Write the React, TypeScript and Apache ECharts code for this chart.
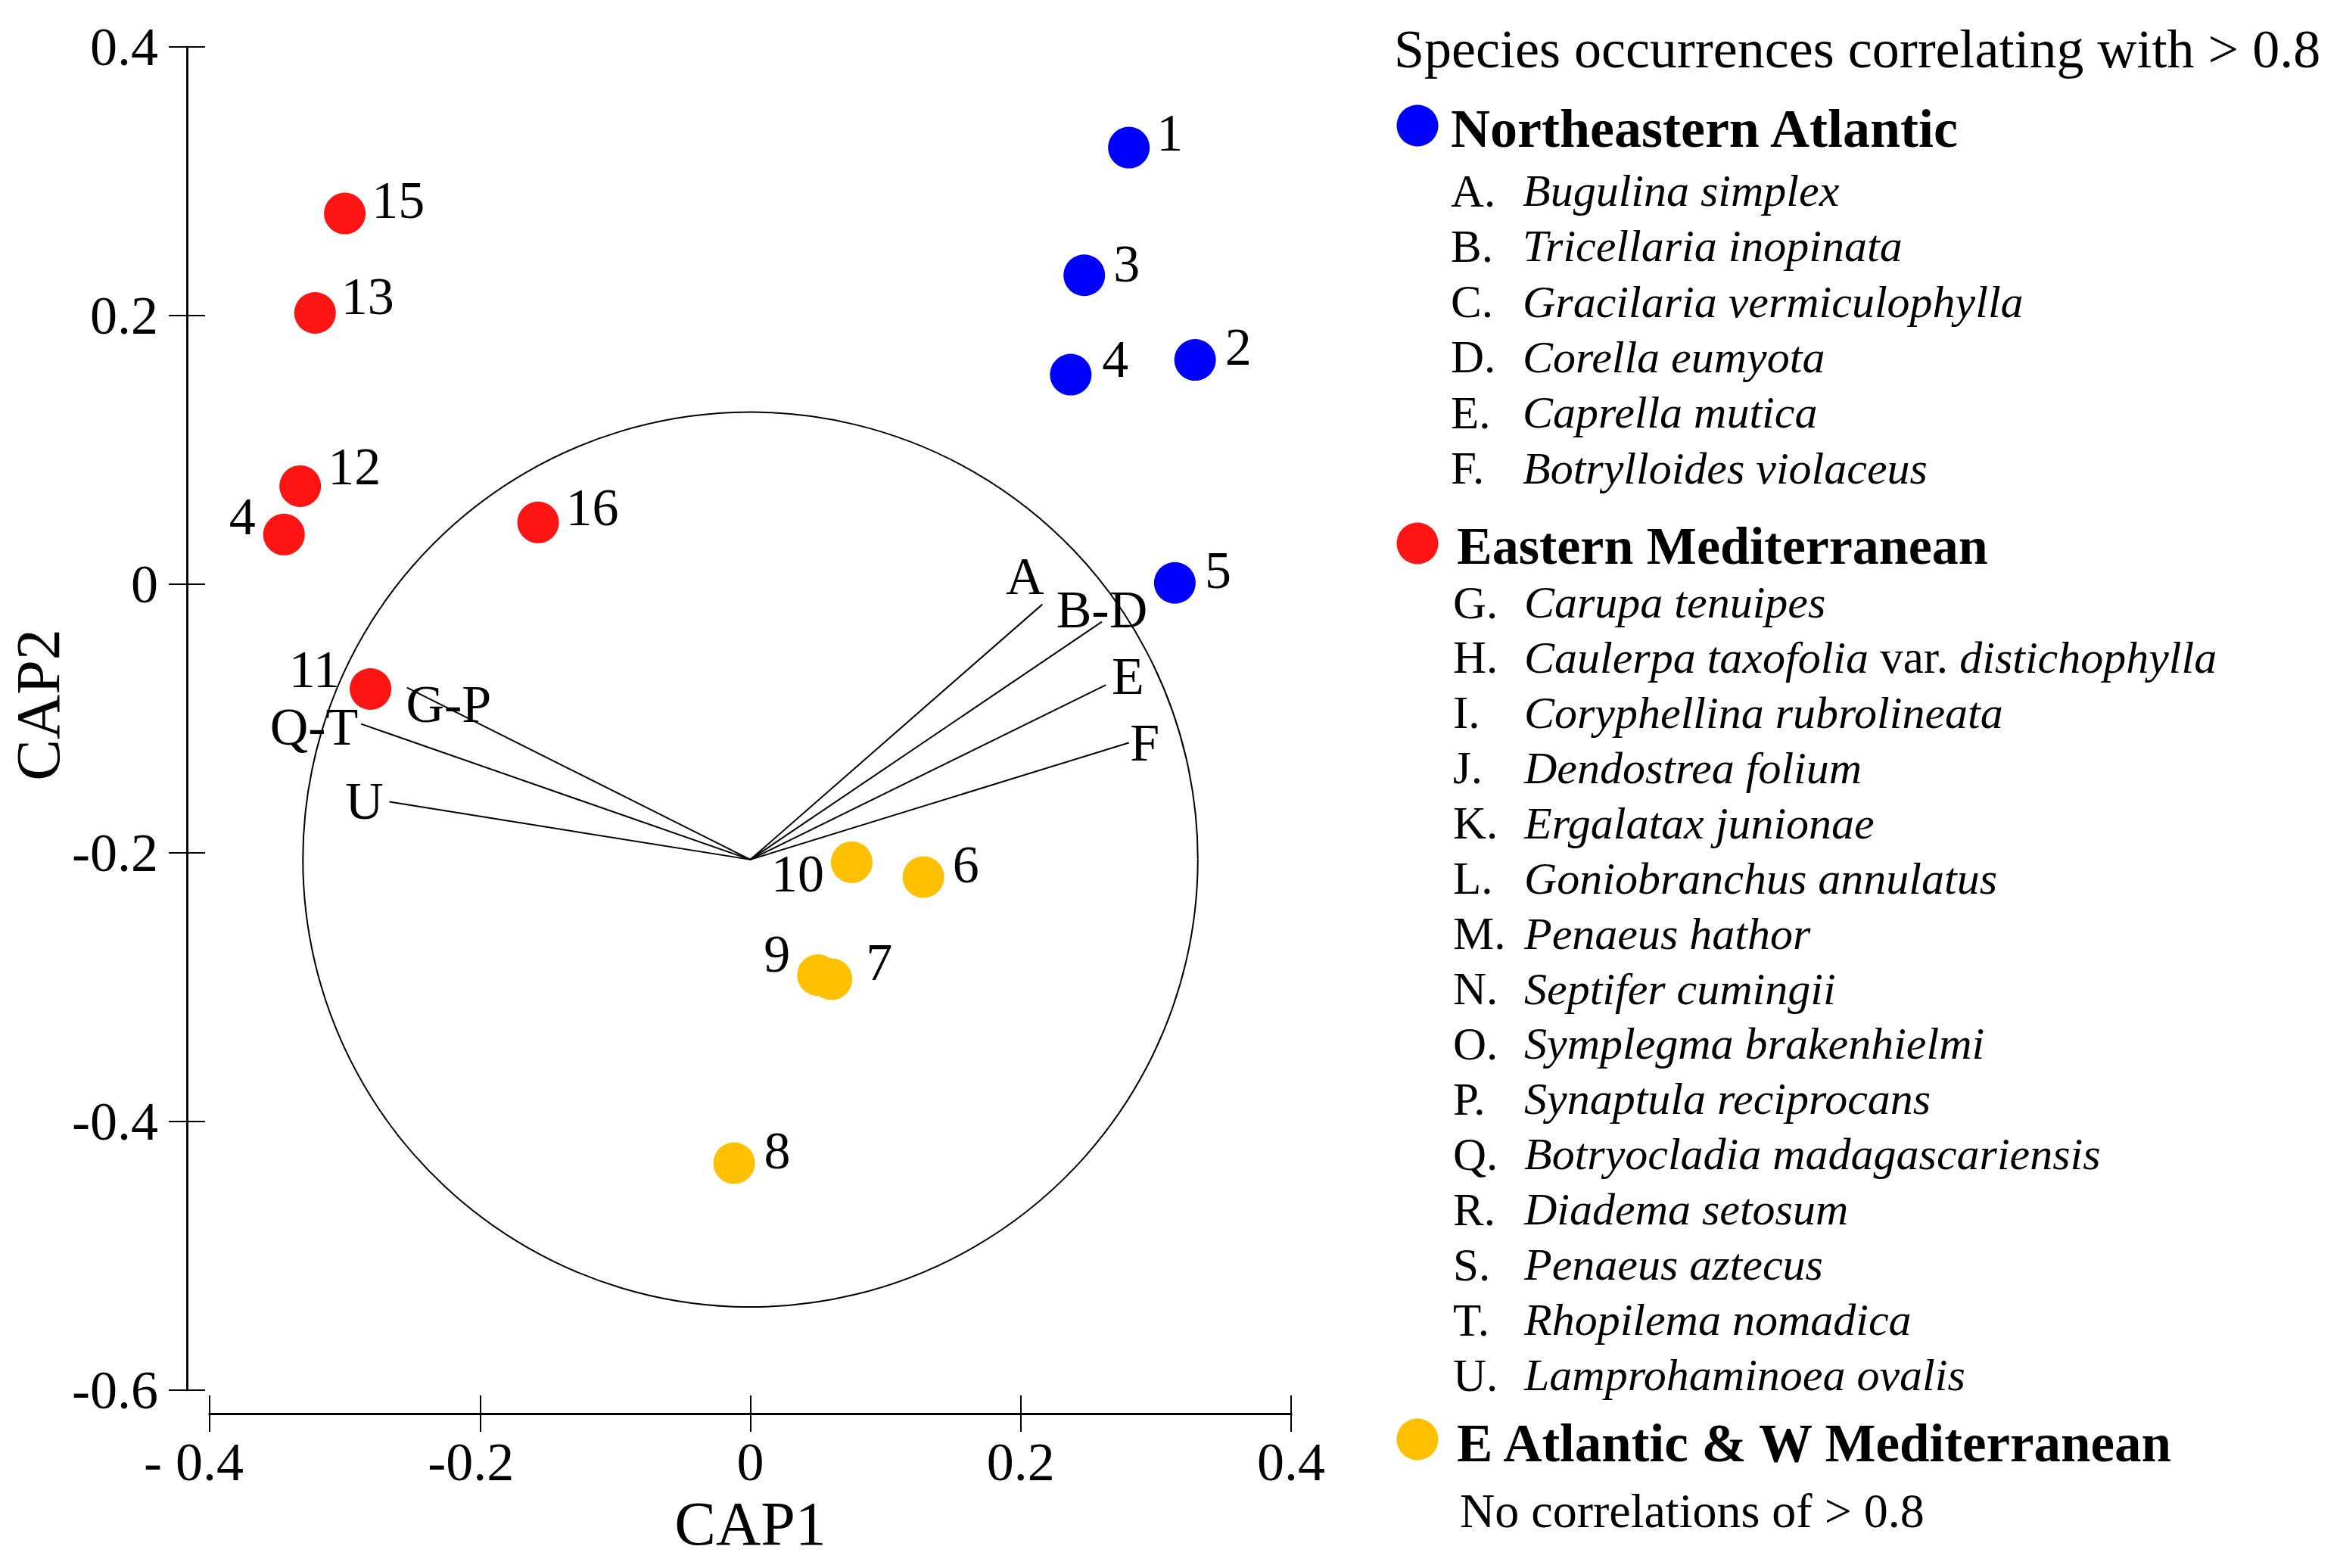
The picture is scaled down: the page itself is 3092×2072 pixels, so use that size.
import React, { useEffect, useRef } from "react";
import * as echarts from "echarts";

// ---------- DATA ----------
const neSites = ["1", "2", "3", "4", "5"];
const neCAP1 = [0.28, 0.329, 0.247, 0.237, 0.314];
const neCAP2 = [0.325, 0.167, 0.23, 0.156, 0.001];

const emSites = ["15", "13", "12", "4", "16", "11"];
const emCAP1 = [-0.3, -0.322, -0.333, -0.345, -0.157, -0.281];
const emCAP2 = [0.276, 0.202, 0.073, 0.037, 0.046, -0.078];

const eaSites = ["10", "6", "9", "7", "8"];
const eaCAP1 = [0.075, 0.128, 0.05, 0.06, -0.012];
const eaCAP2 = [-0.207, -0.218, -0.291, -0.294, -0.431];

const vectorOrigin = [0, -0.205];
const circleRadius = 0.331;
const vectorLabels = ["A", "B-D", "E", "F", "G-P", "Q-T", "U"];
const vectorDX = [0.216, 0.26, 0.263, 0.28, -0.254, -0.288, -0.267];
const vectorDY = [0.19, 0.177, 0.13, 0.087, 0.128, 0.101, 0.043];

const xTickValues = [-0.4, -0.2, 0, 0.2, 0.4];
const xTickLabels = ["- 0.4", "-0.2", "0", "0.2", "0.4"];
const yTickValues = [-0.6, -0.4, -0.2, 0, 0.2, 0.4];
const yTickLabels = ["-0.6", "-0.4", "-0.2", "0", "0.2", "0.4"];

const legendTitle = "Species occurrences correlating with > 0.8";
const groupNames = ["Northeastern Atlantic", "Eastern Mediterranean", "E Atlantic & W Mediterranean"];
const neLetters = ["A", "B", "C", "D", "E", "F"];
const neSpecies = [
  "Bugulina simplex",
  "Tricellaria inopinata",
  "Gracilaria vermiculophylla",
  "Corella eumyota",
  "Caprella mutica",
  "Botrylloides violaceus",
];
const emLetters = ["G", "H", "I", "J", "K", "L", "M", "N", "O", "P", "Q", "R", "S", "T", "U"];
const emSpecies = [
  "Carupa tenuipes",
  "Caulerpa taxofolia var. distichophylla",
  "Coryphellina rubrolineata",
  "Dendostrea folium",
  "Ergalatax junionae",
  "Goniobranchus annulatus",
  "Penaeus hathor",
  "Septifer cumingii",
  "Symplegma brakenhielmi",
  "Synaptula reciprocans",
  "Botryocladia madagascariensis",
  "Diadema setosum",
  "Penaeus aztecus",
  "Rhopilema nomadica",
  "Lamprohaminoea ovalis",
];
const eaNote = "No correlations of > 0.8";

// ---------- STYLE / LAYOUT ----------
const FONT = "'Liberation Serif', 'Times New Roman', serif";
const COLORS = ["#0000FF", "#FF1414", "#FFC000"];

// label placement for site labels: [side, distance, dy]
const neLabelLayout: [string, number, number][] = [
  ["right", 9, -20],
  ["right", 12, -17],
  ["right", 11, -15],
  ["right", 14, -21],
  ["right", 12, -17],
];
const emLabelLayout: [string, number, number][] = [
  ["right", 8, -18],
  ["right", 7, -22],
  ["right", 9, -26],
  ["left", 10, -24],
  ["right", 9, -20],
  ["left", 13, -26],
];
const eaLabelLayout: [string, number, number][] = [
  ["left", 9, 15],
  ["right", 11, -16],
  ["left", 9, -28],
  ["right", 18, -22],
  ["right", 12, -17],
];
// pixel offsets of vector labels relative to vector tips
const vectorLabelOffsets = [
  [-23, -37],
  [0, -16],
  [29, -12],
  [21, 0],
  [55, 22],
  [-62, 4],
  [-33, -1],
];

function findLabel(v: number, values: number[], labels: string[]) {
  for (let i = 0; i < values.length; i++) {
    if (Math.abs(values[i] - v) < 1e-6) return labels[i];
  }
  return "";
}

function siteSeries(name: string, sites: string[], xs: number[], ys: number[], layout: [string, number, number][], color: string) {
  return {
    type: "scatter",
    name,
    symbol: "circle",
    symbolSize: 55,
    z: 5,
    itemStyle: { color, opacity: 1 },
    data: sites.map((s, i) => ({
      name: s,
      value: [xs[i], ys[i]],
      label: {
        show: true,
        position: layout[i][0],
        distance: layout[i][1],
        offset: [0, layout[i][2]],
        formatter: "{b}",
        fontSize: 70,
        fontFamily: FONT,
        color: "#000",
      },
    })),
    emphasis: { disabled: true },
  };
}

function speciesRich(name: string) {
  const parts = name.split(" var. ");
  if (parts.length === 2) return `{i|${parts[0]}} var. {i|${parts[1]}}`;
  return `{i|${name}}`;
}

function legendGraphics() {
  const els: any[] = [];
  const txt = (text: string, x: number, y: number, size: number, weight = "normal", rich?: any) => ({
    type: "text",
    x,
    y,
    silent: true,
    style: {
      text,
      fontSize: size,
      fontFamily: FONT,
      fontWeight: weight,
      fill: "#000",
      verticalAlign: "middle",
      align: "left",
      rich,
    },
  });
  const italicRich = { i: { fontStyle: "italic", fontSize: 60, fontFamily: FONT, fill: "#000" } };
  els.push(txt(legendTitle, 1842, 65, 72));

  // Northeastern Atlantic
  els.push({ type: "circle", shape: { cx: 1873, cy: 166, r: 27.5 }, style: { fill: COLORS[0] }, silent: true });
  els.push(txt(groupNames[0], 1917, 170, 72, "bold"));
  neLetters.forEach((l, i) => {
    const y = 252 + i * 73.3;
    els.push(txt(l + ".", 1917, y, 61));
    els.push(txt(speciesRich(neSpecies[i]), 2012, y, 61, "normal", italicRich));
  });

  // Eastern Mediterranean
  els.push({ type: "circle", shape: { cx: 1873, cy: 718, r: 27.5 }, style: { fill: COLORS[1] }, silent: true });
  els.push(txt(groupNames[1], 1925, 721, 70, "bold"));
  emLetters.forEach((l, i) => {
    const y = 796 + i * 72.93;
    els.push(txt(l + ".", 1920, y, 61));
    els.push(txt(speciesRich(emSpecies[i]), 2014, y, 61, "normal", italicRich));
  });

  // E Atlantic & W Mediterranean
  els.push({ type: "circle", shape: { cx: 1873, cy: 1902, r: 27.5 }, style: { fill: COLORS[2] }, silent: true });
  els.push(txt(groupNames[2], 1925, 1907, 71, "bold"));
  els.push(txt(eaNote, 1929, 1996, 64));
  return els;
}

export default function App() {
  const ref = useRef<HTMLDivElement>(null);

  useEffect(() => {
    if (!ref.current) return;
    const chart = echarts.init(ref.current, undefined, { renderer: "svg" });

    const axisLine = (w: number) => ({ show: true, onZero: false, lineStyle: { color: "#000", width: w } });

    const xLabelFormatter = (v: number) => {
      const lab = findLabel(v, xTickValues, xTickLabels);
      if (lab.startsWith("- ")) return `{t|${lab}}{pw|\u00a0}`;
      if (lab.startsWith("-")) return `{t|${lab}}{pn|\u00a0}`;
      return `{t|${lab}}`;
    };

    const option: any = {
      animation: false,
      backgroundColor: "#fff",
      grid: { left: 277, top: 62, width: 1429, height: 1775, containLabel: false },
      xAxis: [
        {
          type: "value",
          min: -0.4,
          max: 0.4,
          interval: 0.2,
          position: "bottom",
          offset: 31,
          axisLine: axisLine(3),
          axisTick: { show: true, length: 24, inside: false, lineStyle: { color: "#000", width: 2 } },
          splitLine: { show: false },
          axisLabel: {
            show: true,
            margin: 64,
            verticalAlign: "middle",
            formatter: xLabelFormatter,
            rich: {
              t: { fontSize: 72, fontFamily: FONT, color: "#000" },
              pw: { width: 42, fontSize: 72, fontFamily: FONT },
              pn: { width: 24, fontSize: 72, fontFamily: FONT },
            },
          },
          name: "CAP1",
          nameLocation: "middle",
          nameGap: 136,
          nameTextStyle: { fontSize: 82, fontFamily: FONT, color: "#000", verticalAlign: "middle" },
        },
        {
          type: "value",
          min: -0.4,
          max: 0.4,
          interval: 0.2,
          position: "bottom",
          offset: 31,
          axisLine: axisLine(3),
          axisTick: { show: true, length: 24, inside: true, lineStyle: { color: "#000", width: 2 } },
          splitLine: { show: false },
          axisLabel: { show: false },
        },
      ],
      yAxis: [
        {
          type: "value",
          min: -0.6,
          max: 0.4,
          interval: 0.2,
          position: "left",
          offset: 30,
          axisLine: axisLine(2.5),
          axisTick: { show: true, length: 24, inside: false, lineStyle: { color: "#000", width: 2 } },
          splitLine: { show: false },
          axisLabel: {
            show: true,
            margin: 38,
            fontSize: 72,
            fontFamily: FONT,
            color: "#000",
            formatter: (v: number) => findLabel(v, yTickValues, yTickLabels),
          },
          name: "CAP2",
          nameLocation: "middle",
          nameRotate: 90,
          nameGap: 184,
          nameTextStyle: {
            fontSize: 82,
            fontFamily: FONT,
            color: "#000",
            verticalAlign: "middle",
            padding: [0, 0, 0, 36],
          },
        },
        {
          type: "value",
          min: -0.6,
          max: 0.4,
          interval: 0.2,
          position: "left",
          offset: 30,
          axisLine: axisLine(2.5),
          axisTick: { show: true, length: 24, inside: true, lineStyle: { color: "#000", width: 2 } },
          splitLine: { show: false },
          axisLabel: { show: false },
        },
      ],
      series: [
        {
          type: "custom",
          name: "circle",
          z: 1,
          silent: true,
          data: [[vectorOrigin[0], vectorOrigin[1], circleRadius]],
          renderItem: (_p: any, api: any) => {
            const c = api.coord([api.value(0), api.value(1)]);
            const r = api.size([api.value(2), 0])[0];
            return {
              type: "circle",
              shape: { cx: c[0], cy: c[1], r },
              style: { fill: "none", stroke: "#000", lineWidth: 2 },
            };
          },
        },
        {
          type: "custom",
          name: "vectors",
          z: 2,
          silent: true,
          data: vectorLabels.map((l, i) => [vectorDX[i], vectorDY[i], i]),
          renderItem: (_p: any, api: any) => {
            const i = api.value(2);
            const o = api.coord(vectorOrigin);
            const e = api.coord([vectorOrigin[0] + api.value(0), vectorOrigin[1] + api.value(1)]);
            const off = vectorLabelOffsets[i];
            return {
              type: "group",
              children: [
                {
                  type: "line",
                  shape: { x1: o[0], y1: o[1], x2: e[0], y2: e[1] },
                  style: { stroke: "#000", lineWidth: 2 },
                },
                {
                  type: "text",
                  x: e[0] + off[0],
                  y: e[1] + off[1],
                  style: {
                    text: vectorLabels[i],
                    fontSize: 70,
                    fontFamily: FONT,
                    fill: "#000",
                    align: "center",
                    verticalAlign: "middle",
                  },
                },
              ],
            };
          },
        },
        siteSeries(groupNames[0], neSites, neCAP1, neCAP2, neLabelLayout, COLORS[0]),
        siteSeries(groupNames[1], emSites, emCAP1, emCAP2, emLabelLayout, COLORS[1]),
        siteSeries(groupNames[2], eaSites, eaCAP1, eaCAP2, eaLabelLayout, COLORS[2]),
      ],
      graphic: { elements: legendGraphics() },
    };

    chart.setOption(option);
    return () => chart.dispose();
  }, []);

  return (
    <div
      ref={ref}
      style={{ position: "fixed", left: 0, top: 0, width: 3092, height: 2072, background: "#fff" }}
    />
  );
}
